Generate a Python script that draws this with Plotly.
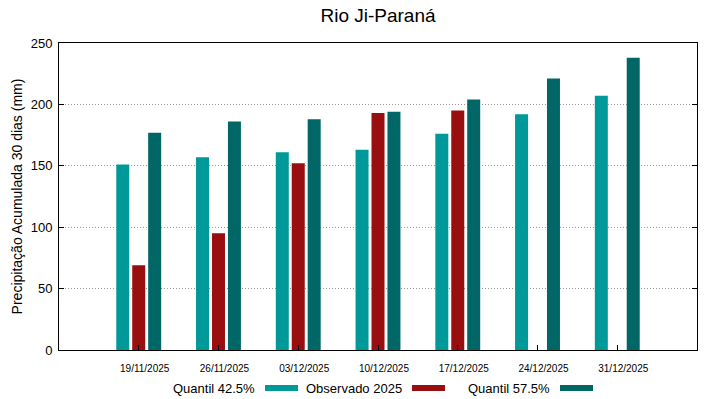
import plotly.graph_objects as go

dates = ["19/11/2025", "26/11/2025", "03/12/2025", "10/12/2025", "17/12/2025", "24/12/2025", "31/12/2025"]
q425 = [151, 157, 161, 163, 176, 192, 207]
observado = [69, 95, 152, 193, 195, None, None]
q575 = [177, 186, 188, 194, 204, 221, 238]

series_names = ["Quantil 42.5%", "Observado 2025", "Quantil 57.5%"]
colors = ["#009999", "#990f0f", "#006666"]
yticks = [0, 50, 100, 150, 200, 250]

x = list(range(1, len(dates) + 1))
fig = go.Figure()
for name, vals, c in zip(series_names, [q425, observado, q575], colors):
    fig.add_trace(go.Bar(x=x, y=vals, name=name, marker=dict(color=c, line=dict(width=0)),
                         showlegend=False))

font = "Liberation Sans, Arial, sans-serif"
fig.update_layout(
    width=719, height=399, autosize=False,
    margin=dict(l=59, r=22, t=43, b=49, autoexpand=False),
    paper_bgcolor="white", plot_bgcolor="white",
    barmode="group", bargap=0.4, bargroupgap=0.185,
    font=dict(family=font, color="black"),
    title=dict(text="Rio Ji-Paraná", x=0.5, xref="paper", xanchor="center",
               y=0.962, yanchor="middle", font=dict(size=19, family=font)),
)
fig.update_xaxes(
    range=[0.0005, 7.9995], tickmode="array", tickvals=[v + 0.075 for v in x], ticktext=dates,
    ticks="", tickfont=dict(size=10), ticklabelstandoff=9, showgrid=False, zeroline=False,
    showline=True, linecolor="black", linewidth=1, mirror=True, automargin=False,
    minor=dict(ticks="inside", tick0=1, dtick=1, ticklen=5, tickcolor="black", showgrid=False),
)
fig.update_yaxes(
    range=[0, 250], tickmode="array", tickvals=yticks, ticks="inside", ticklen=5,
    tickcolor="black", tickfont=dict(size=13), ticklabelstandoff=3, showline=True,
    linecolor="black", linewidth=1, mirror="ticks", showgrid=True, gridcolor="#999999",
    griddash="1px,2px", gridwidth=1, zeroline=False, automargin=False,
    title=dict(text="Precipitação Acumulada 30 dias (mm)", font=dict(size=14), standoff=4),
)

# legend (text followed by sample, gnuplot-like)
leg_text_right = [257, 404, 552]
for name, c, xr in zip(series_names, colors, leg_text_right):
    fig.add_annotation(xref="paper", yref="paper",
                       x=(xr - 59) / 638, y=(350 - 388) / 307,
                       text=name, showarrow=False, xanchor="right", yanchor="middle",
                       font=dict(size=13, family=font))
    fig.add_shape(type="rect", xref="paper", yref="paper",
                  x0=(xr + 8 - 59) / 638, x1=(xr + 41 - 59) / 638,
                  y0=(350 - 385) / 307, y1=(350 - 391) / 307,
                  fillcolor=c, line=dict(width=0))

fig.write_html("out.html", config={"displayModeBar": False},
               post_script="document.body.style.margin='0';")
